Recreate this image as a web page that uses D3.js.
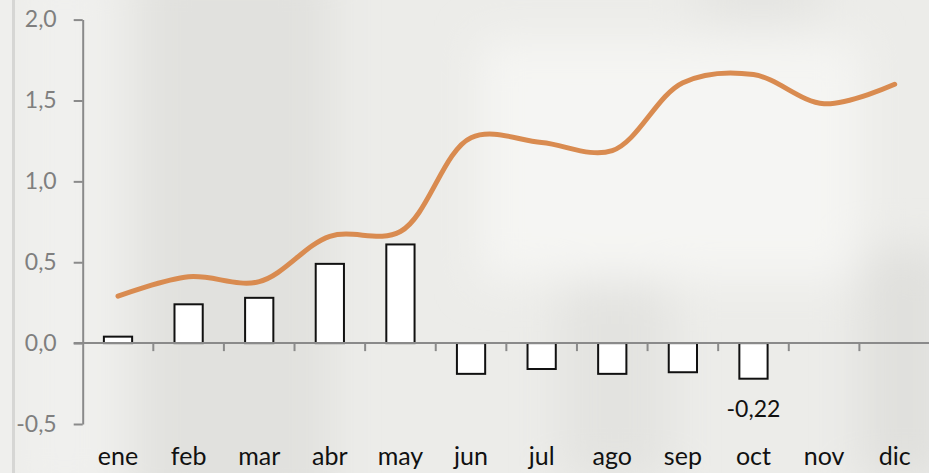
<!DOCTYPE html>
<html>
<head>
<meta charset="utf-8">
<script src="https://cdn.jsdelivr.net/npm/d3@7"></script>
<style>
  body { margin: 0; background: #ecece9; }
  svg { display: block; }
</style>
</head>
<body>
<div id="chart"></div>
<script>
// chart data
const months = ["ene", "feb", "mar", "abr", "may", "jun", "jul", "ago", "sep", "oct", "nov", "dic"];
const barValues = [0.04, 0.24, 0.28, 0.49, 0.61, -0.19, -0.16, -0.19, -0.18, -0.22, null, null];
const lineValues = [0.29, 0.41, 0.38, 0.66, 0.69, 1.27, 1.24, 1.19, 1.61, 1.66, 1.48, 1.60];
const yTicks = [-0.5, 0, 0.5, 1.0, 1.5, 2.0];
const labelMonth = "oct"; // only this bar has its value printed

const W = 929, H = 473;

// spanish number format (comma decimal, plain hyphen)
const es = d3.formatLocale({ decimal: ",", thousands: ".", grouping: [3], currency: ["", " €"], minus: "-" });
const fmt1 = es.format(".1f"), fmt2 = es.format(".2f");

const svg = d3.select("#chart").append("svg")
  .attr("width", W).attr("height", H);

// blurry photo-like background
const defs = svg.append("defs");
defs.append("filter").attr("id", "blur")
  .attr("x", "-50%").attr("y", "-50%").attr("width", "200%").attr("height", "200%")
  .append("feGaussianBlur").attr("stdDeviation", 22);

svg.append("rect").attr("width", W).attr("height", H).attr("fill", "#ecece9");
const bg = svg.append("g").attr("filter", "url(#blur)");
bg.append("rect").attr("x", 140).attr("y", -40).attr("width", 190).attr("height", 560).attr("fill", "#e1e1de");
bg.append("rect").attr("x", 560).attr("y", 280).attr("width", 110).attr("height", 200).attr("fill", "#e3e3e0");
bg.append("rect").attr("x", 860).attr("y", 250).attr("width", 90).attr("height", 230).attr("fill", "#e0e0dd");
bg.append("rect").attr("x", 480).attr("y", 40).attr("width", 380).attr("height", 240).attr("fill", "#f5f5f3");
bg.append("rect").attr("x", 20).attr("y", -30).attr("width", 90).attr("height", 530).attr("fill", "#f0f0ee");
bg.append("rect").attr("x", 700).attr("y", -40).attr("width", 120).attr("height", 60).attr("fill", "#e4e4e1");

// thin frame line on the left
svg.append("rect").attr("x", 0).attr("y", 0).attr("width", 12).attr("height", H).attr("fill", "#efefed");
svg.append("line").attr("x1", 13.5).attr("x2", 13.5).attr("y1", 0).attr("y2", H)
  .attr("stroke", "#d6d6d4").attr("stroke-width", 3);

// scales
const x = d3.scaleBand().domain(months).range([82.7, 930]).padding(0);
const y = d3.scaleLinear().domain([-0.5, 2.0]).range([424, 19.6]);
const step = x.step();
const barW = step * 0.4;

// y axis
const yAxis = svg.append("g")
  .attr("transform", "translate(82.7,0)")
  .call(d3.axisLeft(y).tickValues(yTicks).tickFormat(fmt1).tickSize(9).tickSizeOuter(0).tickPadding(17));
yAxis.select(".domain").attr("stroke", "#8a8a8a").attr("stroke-width", 2);
yAxis.selectAll(".tick line").attr("stroke", "#8a8a8a").attr("stroke-width", 2);
yAxis.selectAll(".tick text")
  .attr("fill", "#7f7f7f")
  .style("font-family", "Lato, 'Open Sans', sans-serif")
  .style("font-size", "23px");

// bars
svg.append("g").selectAll("rect")
  .data(months.map((m, i) => ({ m, v: barValues[i] })).filter(d => d.v != null))
  .join("rect")
  .attr("x", d => x(d.m) + step / 2 - barW / 2)
  .attr("width", barW)
  .attr("y", d => y(Math.max(0, d.v)))
  .attr("height", d => Math.abs(y(d.v) - y(0)))
  .attr("fill", "#ffffff")
  .attr("stroke", "#111")
  .attr("stroke-width", 2);

// zero line with ticks between categories
svg.append("line")
  .attr("x1", 73.7).attr("x2", W).attr("y1", y(0)).attr("y2", y(0))
  .attr("stroke", "#8a8a8a").attr("stroke-width", 2);
svg.append("g").selectAll("line")
  .data(months)
  .join("line")
  .attr("x1", d => x(d) + step).attr("x2", d => x(d) + step)
  .attr("y1", y(0)).attr("y2", y(0) + 8)
  .attr("stroke", "#8a8a8a").attr("stroke-width", 2);

// smoothed line
const line = d3.line()
  .x((d, i) => x(months[i]) + step / 2)
  .y(d => y(d))
  .curve(d3.curveCatmullRom.alpha(0.5));
svg.append("path")
  .datum(lineValues)
  .attr("d", line)
  .attr("fill", "none")
  .attr("stroke", "#d98b50")
  .attr("stroke-width", 5)
  .attr("stroke-linecap", "round");

// value label on october bar
const li = months.indexOf(labelMonth);
svg.append("text")
  .attr("x", x(labelMonth) + step / 2)
  .attr("y", 417)
  .attr("text-anchor", "middle")
  .attr("fill", "#111")
  .style("font-family", "Lato, 'Open Sans', sans-serif")
  .style("font-size", "23px")
  .text(fmt2(barValues[li]));

// category labels
const xAxis = svg.append("g")
  .attr("transform", "translate(0,447)")
  .call(d3.axisBottom(x).tickSize(0).tickPadding(0));
xAxis.select(".domain").remove();
xAxis.selectAll(".tick text")
  .attr("fill", "#111")
  .attr("dy", "0.71em")
  .style("font-family", "Lato, 'Open Sans', sans-serif")
  .style("font-size", "25px");
</script>
</body>
</html>
